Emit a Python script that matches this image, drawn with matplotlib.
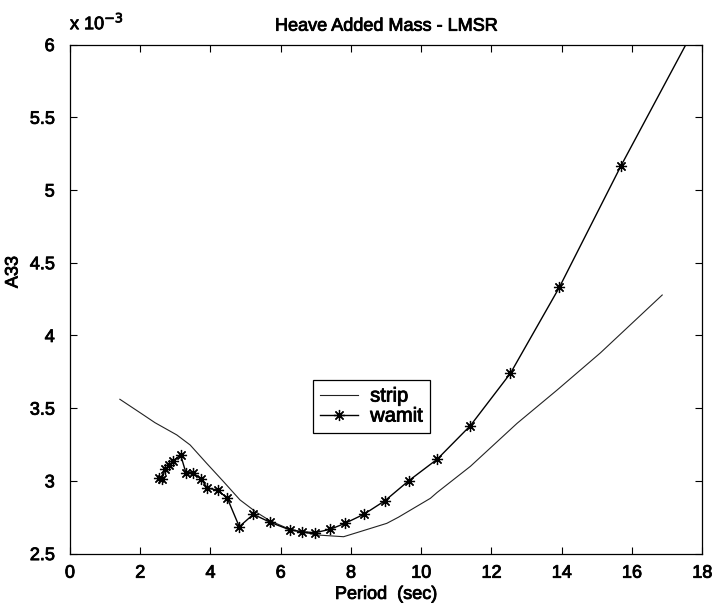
import numpy as np
import matplotlib
matplotlib.use("Agg")
import matplotlib.pyplot as plt
import matplotlib.patheffects as pe

plt.rcParams['font.family'] = ['Liberation Sans', 'DejaVu Sans']

# strip theory result (A33 in units of 1e-3)
strip_period = [1.42, 2.05, 2.42, 3.04, 3.42, 3.89, 4.37, 4.84, 5.30, 5.70,
                6.17, 6.55, 7.03, 7.79, 8.26, 9.02, 9.35, 10.26, 10.45, 11.40,
                12.73, 13.87, 15.10, 16.86]
strip_a33 = [3.561, 3.460, 3.400, 3.316, 3.247, 3.121, 2.995, 2.869, 2.785, 2.725,
             2.676, 2.651, 2.628, 2.616, 2.651, 2.708, 2.750, 2.880, 2.920, 3.100,
             3.396, 3.625, 3.880, 4.278]

# wamit result (A33 in units of 1e-3)
wamit_period = [2.52, 2.61, 2.71, 2.83, 2.94, 3.15, 3.30, 3.49, 3.73, 3.91,
                4.20, 4.48, 4.82, 5.22, 5.70, 6.27, 6.60, 6.98, 7.41, 7.83,
                8.38, 8.97, 9.64, 10.46, 11.40, 12.54, 13.93, 15.69, 17.80]
wamit_a33 = [3.018, 3.011, 3.080, 3.109, 3.139, 3.178, 3.056, 3.056, 3.015, 2.950,
             2.937, 2.880, 2.685, 2.770, 2.715, 2.662, 2.650, 2.644, 2.667, 2.708,
             2.772, 2.864, 3.000, 3.150, 3.380, 3.740, 4.330, 5.168, 6.120]

x_ticks = np.arange(0, 19, 2)
y_ticks = [2.5, 3, 3.5, 4, 4.5, 5, 5.5, 6]
y_labels = ['2.5', '3', '3.5', '4', '4.5', '5', '5.5', '6']

fs = 13
# scanned print look: slightly heavier strokes on the text
heavy = [pe.withStroke(linewidth=0.6, foreground='black')]

fig = plt.figure(figsize=(7.12, 6.14), dpi=100)
ax = fig.add_axes([0.0983, 0.0984, 0.888, 0.829])

ax.plot(strip_period, strip_a33, color='#222222', lw=0.8, label='strip')
ax.plot(wamit_period, wamit_a33, color='black', lw=1.0, marker=(8, 2, 0),
        markersize=8, markeredgewidth=0.9, label='wamit')

ax.set_xlim(0, 18)
ax.set_ylim(2.5, 6)
ax.set_xticks(x_ticks)
ax.set_yticks(y_ticks)
ax.set_yticklabels(y_labels)
ax.tick_params(direction='in', top=True, right=True, length=5, width=0.8,
               labelsize=fs)
ax.tick_params(axis='x', pad=8)
ax.tick_params(axis='y', pad=11)
for s in ax.spines.values():
    s.set_linewidth(0.9)

ax.set_title('Heave Added Mass - LMSR', fontsize=fs, pad=10)
ax.set_xlabel('Period  (sec)', fontsize=fs, labelpad=3)
ax.set_ylabel('A33', fontsize=fs, labelpad=6, y=0.553)

# MATLAB style exponent label
ax.text(0.0, 1.03, r'x 10$^{-3}$', transform=ax.transAxes, fontsize=fs,
        ha='left', va='baseline', path_effects=heavy)

leg = ax.legend(loc='upper left', bbox_to_anchor=(0.384, 0.342), fontsize=14.5,
                frameon=True, fancybox=False, edgecolor='black', framealpha=1,
                handlelength=1.9, borderpad=0.35, labelspacing=0.05,
                handletextpad=0.6, borderaxespad=0)
leg.get_frame().set_linewidth(0.9)

texts = ([ax.title, ax.xaxis.label, ax.yaxis.label] + leg.get_texts()
         + ax.get_xticklabels() + ax.get_yticklabels())
for t in texts:
    t.set_path_effects(heavy)

fig.savefig('out.png', dpi=100)
